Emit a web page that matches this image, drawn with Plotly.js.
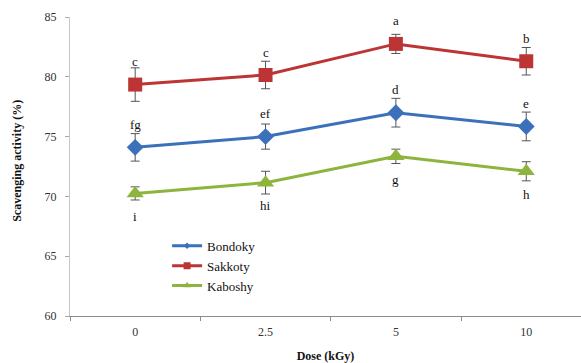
<!DOCTYPE html>
<html>
<head>
<meta charset="utf-8">
<script src="https://cdn.plot.ly/plotly-3.0.1.min.js"></script>
<style>html,body{margin:0;padding:0;background:#fff;}#chart{width:581px;height:363px;}</style>
</head>
<body>
<div id="chart"></div>
<script>
const doses = ['0', '2.5', '5', '10'];

const bondoky = [74.1, 75.0, 77.0, 75.85];
const bondokyErr = [1.15, 1.05, 1.2, 1.2];
const bondokyLetters = ['fg', 'ef', 'd', 'e'];

const sakkoty = [79.35, 80.15, 82.75, 81.3];
const sakkotyErr = [1.4, 1.15, 0.8, 1.15];
const sakkotyLetters = ['c', 'c', 'a', 'b'];

const kaboshy = [70.25, 71.15, 73.35, 72.1];
const kaboshyErr = [0.55, 0.95, 0.6, 0.8];
const kaboshyLetters = ['i', 'hi', 'g', 'h'];

const serif = 'Liberation Serif';

function series(name, y, err, color, symbol, size) {
  return {
    type: 'scatter', mode: 'lines+markers', name: name, showlegend: false,
    x: doses, y: y,
    line: {color: color, width: 3},
    marker: {color: color, symbol: symbol, size: size},
    error_y: {type: 'data', array: err, visible: true, color: '#555', thickness: 1, width: 4.5}
  };
}
function legendEntry(name, color, symbol, size) {
  return {
    type: 'scatter', mode: 'lines+markers', name: name, showlegend: true,
    x: [null], y: [null],
    line: {color: color, width: 3},
    marker: {color: color, symbol: symbol, size: size}
  };
}

const traces = [
  series('Bondoky', bondoky, bondokyErr, '#3b70bb', 'diamond', 13),
  series('Sakkoty', sakkoty, sakkotyErr, '#bd3434', 'square', 14),
  series('Kaboshy', kaboshy, kaboshyErr, '#8db43c', 'triangle-up', 15),
  legendEntry('Bondoky', '#3b70bb', 'diamond', 5),
  legendEntry('Sakkoty', '#bd3434', 'square', 7),
  legendEntry('Kaboshy', '#8db43c', 'triangle-up', 7)
];

const annotations = [];
function addLetters(y, letters, above) {
  letters.forEach((t, i) => {
    annotations.push({
      x: i, y: y[i], xref: 'x', yref: 'y', text: t, showarrow: false,
      yanchor: 'middle', yshift: above ? 23 : -23,
      font: {family: serif, size: 13, color: '#111'}
    });
  });
}
addLetters(sakkoty, sakkotyLetters, true);
addLetters(bondoky, bondokyLetters, true);
addLetters(kaboshy, kaboshyLetters, false);

annotations.push({
  xref: 'paper', yref: 'paper', x: -0.105, y: 0.52, xanchor: 'center', yanchor: 'middle',
  text: '<b>Scavenging activity (%)</b>', textangle: -90, showarrow: false,
  font: {family: serif, size: 12, color: '#111'}
});

const layout = {
  width: 581, height: 363,
  margin: {l: 70, r: 0, t: 17, b: 47},
  paper_bgcolor: '#fff', plot_bgcolor: '#fff',
  showlegend: true,
  legend: {
    x: 0.19, y: 0.285, xanchor: 'left', yanchor: 'top',
    font: {family: serif, size: 13, color: '#111'},
    bgcolor: 'rgba(0,0,0,0)', tracegroupgap: 0, itemwidth: 30
  },
  xaxis: {
    type: 'category', range: [-0.5, 3.42],
    showline: true, linecolor: '#8c8c8c', linewidth: 1,
    ticks: 'outside', tickson: 'boundaries', ticklen: 4, tickcolor: '#8c8c8c',
    ticklabelstandoff: 5,
    showgrid: false, zeroline: false,
    tickfont: {family: serif, size: 12, color: '#333'},
    title: {text: '<b>Dose (kGy)</b>', font: {family: serif, size: 12, color: '#111'}, standoff: 14}
  },
  yaxis: {
    range: [60, 85], dtick: 5, tick0: 60,
    showline: true, linecolor: '#c8c8c8', linewidth: 1,
    ticks: 'outside', ticklen: 4, tickcolor: '#aaa',
    ticklabelstandoff: 6,
    showgrid: false, zeroline: false,
    tickfont: {family: serif, size: 12, color: '#333'}
  },
  annotations: annotations
};

Plotly.newPlot('chart', traces, layout, {displayModeBar: false, staticPlot: true});
</script>
</body>
</html>
